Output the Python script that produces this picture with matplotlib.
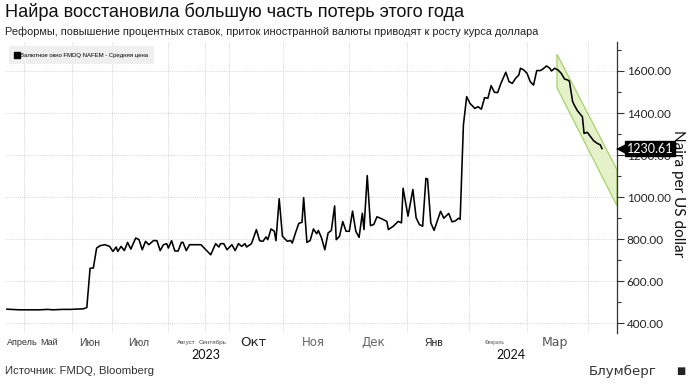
"""Naira vs US dollar (FMDQ NAFEM window), Apr 2023 - Apr 2024, Bloomberg-style chart."""
import matplotlib
matplotlib.use("Agg")
import matplotlib.pyplot as plt
from matplotlib.lines import Line2D
import pandas as pd

START = pd.Timestamp("2023-04-25")

# days after START and the NAFEM average rate (naira per dollar)
days = [0, 3, 8, 14, 20, 25, 28, 31, 34, 39, 47, 49, 51, 53, 55, 57, 60, 63, 65, 67,
        68, 70, 72, 74, 76, 79, 81, 83, 85, 87, 90, 92, 94, 96, 98, 99, 101, 103, 105, 107,
        108, 110, 112, 119, 121, 125, 128, 130, 131, 133, 135, 138, 140, 142, 144, 146, 147, 150, 153, 155,
        157, 159, 160, 162, 164, 165, 167, 169, 172, 174, 175, 177, 179, 181, 182, 184, 186, 188, 190, 191,
        193, 195, 197, 199, 201, 202, 204, 206, 208, 210, 212, 214, 216, 218, 219, 221, 223, 225, 227, 230,
        233, 234, 237, 240, 242, 243, 246, 249, 251, 253, 255, 257, 258, 260, 262, 266, 268, 270, 271, 273,
        275, 277, 278, 280, 282, 284, 287, 289, 291, 293, 295, 297, 299, 301, 303, 306, 308, 310, 312, 314,
        315, 317, 319, 321, 323, 325, 327, 328, 331, 333, 334, 336, 338, 340, 342, 344, 345, 347, 348, 350,
        353, 354, 356, 358, 360, 362, 364, 365]
rate = [466, 465, 463, 463, 463, 465, 463, 464, 465, 465, 468, 474, 661, 662, 757, 768, 773, 765, 741, 762,
        741, 765, 745, 784, 752, 805, 797, 749, 789, 773, 793, 792, 745, 773, 778, 757, 792, 743, 743, 784,
        784, 745, 773, 773, 757, 725, 778, 762, 778, 778, 749, 773, 745, 778, 765, 778, 762, 778, 845, 792,
        789, 810, 797, 848, 837, 792, 992, 813, 789, 793, 781, 829, 874, 880, 997, 784, 793, 848, 825, 841,
        805, 749, 829, 841, 958, 797, 813, 883, 837, 837, 933, 837, 808, 923, 845, 1102, 864, 869, 906, 896,
        884, 845, 861, 884, 877, 1042, 909, 1036, 901, 869, 861, 1089, 1086, 877, 841, 932, 899, 914, 922, 882,
        886, 899, 894, 1343, 1478, 1446, 1422, 1430, 1418, 1473, 1470, 1530, 1499, 1497, 1541, 1594, 1549, 1541, 1565, 1581,
        1613, 1605, 1589, 1549, 1533, 1602, 1602, 1605, 1624, 1613, 1600, 1613, 1605, 1589, 1562, 1557, 1552, 1454, 1438, 1410,
        1382, 1303, 1308, 1287, 1267, 1256, 1248, 1230.61]

# downward trend channel drawn at the end
chan_days = [337.4, 374.2]
chan_upper = [1680, 1130]
chan_lower = [1520, 958]

grid_days = [10.6, 40.1, 64.2, 99.0, 121.5, 136.2, 169.5, 210.0, 245.2, 283.6, 319.2, 356.3]
month_names = ["Апрель", "Май", "Июн", "Июл", "Август", "Сентябрь", "Окт", "Ноя", "Дек",
               "Янв", "Февраль", "Мар"]
month_days = [9.5, 26, 51, 81, 110, 126, 151, 188, 225, 262, 299, 336]
year_names = ["2023", "2024"]
year_days = [122, 309]
y_ticks = [400, 600, 800, 1000, 1200, 1400, 1600]

SANS = ["Liberation Sans", "DejaVu Sans"]
WIDE = ["DejaVu Sans"]
HUMAN = ["Lato", "DejaVu Sans"]


def when(d):
    return START + pd.to_timedelta(d, unit="D")


fig = plt.figure(figsize=(6.93, 3.85), dpi=100)
ax = fig.add_axes([0.0072, 0.1358, 0.8831, 0.7551])

ax.plot(when(days), rate, color="black", lw=1.15, zorder=3)

cx = when(chan_days)
poly_x = [cx[0], cx[1], cx[1], cx[0]]
poly_y = [chan_upper[0], chan_upper[1], chan_lower[1], chan_lower[0]]
ax.fill(poly_x, poly_y, facecolor="#e4f1c9", edgecolor="#a9d26c", lw=0.9, zorder=2)

ax.set_xlim(when(-1.2), when(374.2))
ax.set_ylim(354, 1738)

ax.set_xticks(when(grid_days))
ax.set_xticklabels([])
ax.tick_params(axis="x", length=0)
ax.set_yticks(y_ticks)
ax.set_yticks(range(500, 1800, 200), minor=True)
ax.yaxis.tick_right()
ax.tick_params(axis="y", which="major", length=5, width=0.8, color="#333", pad=2,
               labelsize=8.5, labelcolor="#222")
ax.tick_params(axis="y", which="minor", length=3, width=0.8, color="#333")
ax.set_yticklabels([f"{v:.2f}" for v in y_ticks], family=HUMAN)
ax.grid(True, color="#c8c8c8", lw=0.6, ls=(0, (1, 1.5)))

for s in ("left", "top", "bottom"):
    ax.spines[s].set_visible(False)
ax.spines["right"].set_color("#333")
ax.spines["right"].set_linewidth(0.9)

ax.yaxis.set_label_position("right")
ax.set_ylabel("Naira per US dollar", rotation=270, family=HUMAN, fontsize=11, color="#111",
              va="center", ha="center")
ax.yaxis.set_label_coords(1.1, 0.48)

# last value tag (it covers the 1200 tick label, as in the original)
last = rate[-1]
yt = ax.get_yaxis_transform()
ax.text(1.016, last, f"{last:.2f}", transform=yt, ha="left", va="center",
        color="white", fontsize=9, family=HUMAN, zorder=6, clip_on=False,
        bbox=dict(boxstyle="square,pad=0.12", fc="black", ec="black"))
ax.plot([1.006], [last], transform=yt, marker="<", ms=7, color="black", mew=0,
        clip_on=False, zorder=6)

# legend box
handle = Line2D([], [], marker="s", color="black", ls="none", markersize=4)
leg = ax.legend([handle], ["Валютное окно FMDQ NAFEM - Средняя цена"], loc="upper left",
                bbox_to_anchor=(0.001, 0.995), frameon=True, fancybox=False, handlelength=0.7,
                handletextpad=0.2, borderpad=1.0, prop=dict(family=SANS, size=4.3))
leg.get_frame().set_facecolor("#efefef")
leg.get_frame().set_edgecolor("none")
leg.get_frame().set_alpha(1)

# month and year labels under the plot
month_style = [(6.5, SANS, "#333"), (6.5, SANS, "#333"), (7.5, SANS, "#444"), (7.5, SANS, "#444"),
               (4.5, SANS, "#444"), (4.5, SANS, "#444"), (9.5, WIDE, "#222"), (8.5, WIDE, "#666"),
               (8.5, WIDE, "#666"), (7.5, SANS, "#222"), (3.5, SANS, "#555"), (9, WIDE, "#555")]
xt = ax.get_xaxis_transform()
for name, d, (size, fam, col) in zip(month_names, month_days, month_style):
    ax.text(when(d), -0.035, name, transform=xt, ha="center", va="center",
            fontsize=size, family=fam, color=col)
for name, d in zip(year_names, year_days):
    ax.text(when(d), -0.077, name, transform=xt, ha="center", va="center",
            fontsize=9, family=HUMAN, color="#111")

fig.text(0.0072, 0.968, "Найра восстановила большую часть потерь этого года",
         family=SANS, fontsize=13.1, color="#111", va="center")
fig.text(0.0072, 0.917, "Реформы, повышение процентных ставок, приток иностранной валюты "
         "приводят к росту курса доллара", family=SANS, fontsize=7.9, color="#222", va="center")
fig.text(0.0072, 0.036, "Источник: FMDQ, Bloomberg", family=SANS,
         fontsize=8.2, color="#333", va="center")
fig.text(0.948, 0.036, "Блумберг", family=WIDE, fontsize=9.6, color="#333", va="center", ha="right")
fig.text(0.983, 0.036, "■", family=WIDE, fontsize=7, color="#222", va="center", ha="center")

fig.savefig("out.png", dpi=100)
